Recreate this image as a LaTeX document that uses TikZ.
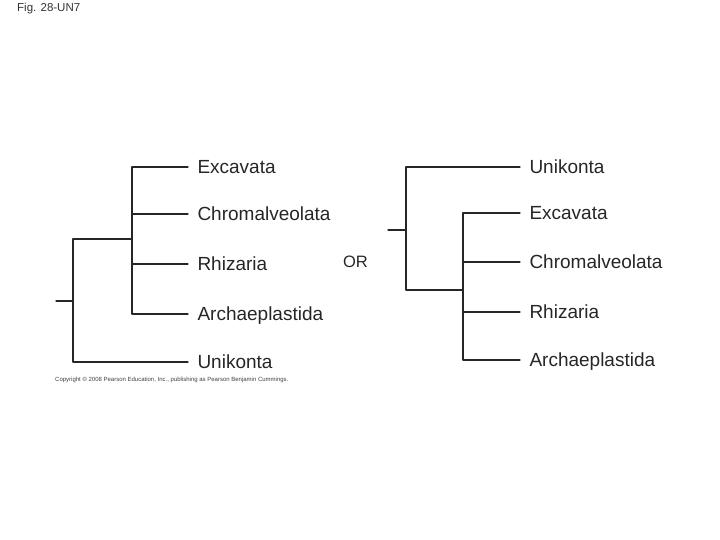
\documentclass[tikz,border=0pt]{standalone}
\usepackage{fontspec}
\setmainfont{Liberation Sans}
\usetikzlibrary{positioning}

\tikzset{
  taxon/.style={anchor=west,inner xsep=9.5pt,inner ysep=0pt,outer sep=0pt,
    text height=13pt,text depth=0pt,font=\fontsize{19}{19}\selectfont,text=black!85},
  branch/.style={line width=1.2pt,draw=black!85}
}

\begin{document}
\begin{tikzpicture}[x=1pt,y=-1pt,line cap=round,line join=round]
  \useasboundingbox (0,0) rectangle (720,540);
  % caption
  \node[anchor=west,inner sep=0pt,font=\fontsize{11.5}{11.5}\selectfont,text=black!80] (fig) at (17,8.5) {Fig. 28-UN7};
  % left tree
  \coordinate (L0) at (56,301);
  \coordinate (L1) at (73,301);
  \coordinate (L2) at (132,239);
  \node[taxon] (Lexc) at (188,167) {Excavata};
  \node[taxon] (Lchr) at (188,214) {Chromalveolata};
  \node[taxon] (Lrhi) at (188,264) {Rhizaria};
  \node[taxon] (Larc) at (188,314) {Archaeplastida};
  \node[taxon] (Luni) at (188,362) {Unikonta};
  \draw[branch] (L0) -- (L1);
  \draw[branch] (L1) |- (L2);
  \draw[branch] (L1) |- (Luni);
  \draw[branch] (L2) |- (Lexc);
  \draw[branch] (L2) |- (Lchr);
  \draw[branch] (L2) |- (Lrhi);
  \draw[branch] (L2) |- (Larc);
  \node[anchor=west,inner sep=0pt,font=\fontsize{6}{6}\selectfont,text=black!75] (copy) at (55,379.5)
    {Copyright \textcopyright\ 2008 Pearson Education, Inc., publishing as Pearson Benjamin Cummings.};
  % OR
  \node[inner sep=0pt,font=\fontsize{16.5}{16.5}\selectfont,text=black!85] (or) at (355.5,262) {OR};
  % right tree
  \coordinate (R0) at (388,230);
  \coordinate (R1) at (406,230);
  \coordinate (R2) at (463,290);
  \node[taxon] (Runi) at (520,167) {Unikonta};
  \node[taxon] (Rexc) at (520,213) {Excavata};
  \node[taxon] (Rchr) at (520,262) {Chromalveolata};
  \node[taxon] (Rrhi) at (520,312) {Rhizaria};
  \node[taxon] (Rarc) at (520,360) {Archaeplastida};
  \draw[branch] (R0) -- (R1);
  \draw[branch] (R1) |- (Runi);
  \draw[branch] (R1) |- (R2);
  \draw[branch] (R2) |- (Rexc);
  \draw[branch] (R2) |- (Rchr);
  \draw[branch] (R2) |- (Rrhi);
  \draw[branch] (R2) |- (Rarc);
\end{tikzpicture}
\end{document}
